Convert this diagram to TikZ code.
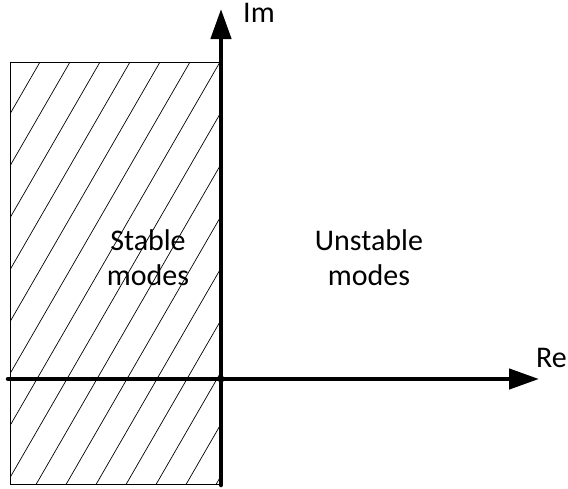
\documentclass[tikz,border=0pt]{standalone}
\usepackage{fontspec}
\setmainfont{Carlito}
\usetikzlibrary{arrows.meta}
\tikzset{
  axis/.style={line width=4.5pt, line cap=round, -{Triangle[length=30pt,width=20pt]}},
  hatchline/.style={line width=0.7pt},
  frame/.style={line width=0.9pt},
  lbl/.style={inner sep=0pt, font=\fontsize{30}{35}\selectfont, align=center}
}
\begin{document}
\begin{tikzpicture}[x=1pt,y=-1pt]
\useasboundingbox (0,0) rectangle (568,488);
% hatched region
\begin{scope}
  \clip (10,62) rectangle (221,484);
  \foreach \k in {-10,...,12} {
    \draw[hatchline] ({100+30*\k+35.8},0) -- ({100+30*\k-246},488);
  }
\end{scope}
\draw[frame] (10,62) rectangle (221,484);
% axes
\coordinate (imstart) at (221,485);
\coordinate (imend) at (221,9);
\coordinate (restart) at (8,379);
\coordinate (reend) at (539,379);
\coordinate (origin) at (221,379);
\draw[axis] (restart) -- (reend);
\draw[axis] (imstart) -- (imend);
\fill (origin) circle (3.5pt);
% labels
\node[lbl, anchor=base west] (im) at (243,22) {Im};
\node[lbl, anchor=base west] (re) at (536,367) {Re};
\node[lbl, anchor=base] (stable) at (148,285) {Stable\\modes};
\node[lbl, anchor=base] (unstable) at (369,285) {Unstable\\modes};
\end{tikzpicture}
\end{document}
